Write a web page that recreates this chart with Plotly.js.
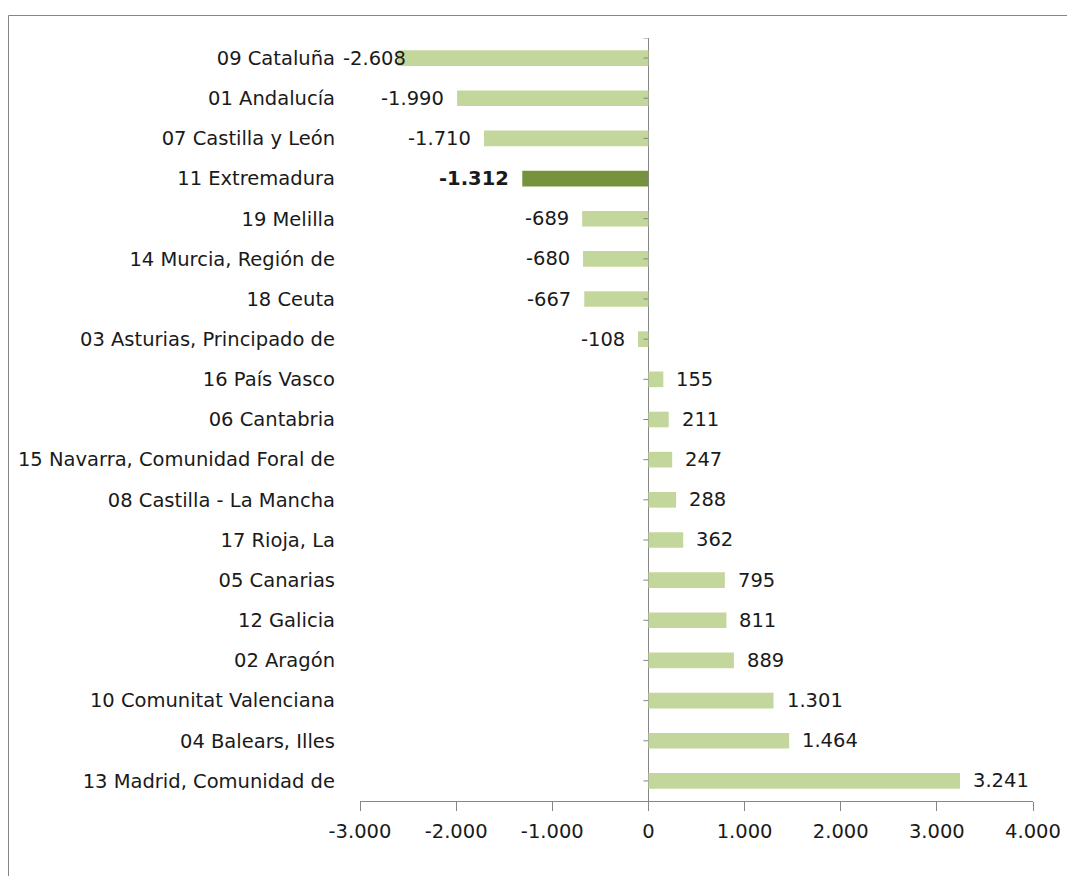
<!DOCTYPE html>
<html>
<head>
<meta charset="utf-8">
<script src="https://cdn.plot.ly/plotly-3.0.1.min.js"></script>
<style>
html,body{margin:0;padding:0;background:#fff;}
#chart{width:1067px;height:876px;}
</style>
</head>
<body>
<div id="chart"></div>
<script>
var categories = [
  "09 Cataluña",
  "01 Andalucía",
  "07 Castilla y León",
  "11 Extremadura",
  "19 Melilla",
  "14 Murcia, Región de",
  "18 Ceuta",
  "03 Asturias, Principado de",
  "16 País Vasco",
  "06 Cantabria",
  "15 Navarra, Comunidad Foral de",
  "08 Castilla - La Mancha",
  "17 Rioja, La",
  "05 Canarias",
  "12 Galicia",
  "02 Aragón",
  "10 Comunitat Valenciana",
  "04 Balears, Illes",
  "13 Madrid, Comunidad de"
];
var values = [-2608, -1990, -1710, -1312, -689, -680, -667, -108, 155, 211, 247, 288, 362, 795, 811, 889, 1301, 1464, 3241];
var highlight = "11 Extremadura";
var xTickVals = [-3000, -2000, -1000, 0, 1000, 2000, 3000, 4000];

var FONT = "'DejaVu Sans', 'Open Sans', sans-serif";
var FS = 19.5;
var LIGHT = "#C3D69B", DARK = "#76923C", AXIS = "#868686", TXT = "#1a1a1a";
var XMIN = -3000, XMAX = 4000;

function fmt(v) {
  var s = Math.abs(v).toString().replace(/\B(?=(\d{3})+(?!\d))/g, ".");
  return (v < 0 ? "-" : "") + s;
}

var colors = categories.map(function (c) { return c === highlight ? DARK : LIGHT; });

var trace = {
  type: "bar",
  orientation: "h",
  x: values,
  y: categories,
  width: 0.39,
  marker: { color: colors, line: { width: 0 } },
  hoverinfo: "skip"
};

var annotations = values.map(function (v, i) {
  var bold = categories[i] === highlight;
  var txt = bold ? "<b>" + fmt(v) + "</b>" : fmt(v);
  var a = {
    x: v, y: categories[i], xref: "x", yref: "y",
    text: txt, showarrow: false,
    font: { family: FONT, size: FS, color: TXT },
    xanchor: v < 0 ? "right" : "left",
    xshift: v < 0 ? -11 : 11,
    yshift: 0
  };
  if (v < XMIN + 700) { // label would run past the axis start: tuck it against the bar
    a.xanchor = "left"; a.x = XMIN; a.xshift = -19;
  }
  return a;
});

var shapes = [];
categories.forEach(function (c, i) {
  shapes.push({ type: "line", xref: "x", yref: "y", xsizemode: "pixel", xanchor: 0,
    x0: -5, x1: 0, y0: i, y1: i, line: { color: AXIS, width: 1 } });
});
shapes.push({ type: "line", xref: "x", yref: "y", xsizemode: "pixel", xanchor: 0,
  x0: -5, x1: 0, y0: -0.5, y1: -0.5, line: { color: AXIS, width: 1 } });
var plotL = 360, plotR = 1033, plotT = 38, plotB = 801;
var pw = plotR - plotL, ph = plotB - plotT;
shapes.push({ type: "rect", xref: "paper", yref: "paper",
  x0: (8.5 - plotL) / pw, x1: (1090 - plotL) / pw,
  y0: (plotB - 900) / ph, y1: (plotB - 15.5) / ph,
  line: { color: AXIS, width: 1 }, fillcolor: "rgba(0,0,0,0)", layer: "below" });

var layout = {
  width: 1067, height: 876,
  margin: { l: plotL, r: 1067 - plotR, t: plotT, b: 876 - plotB, pad: 0 },
  paper_bgcolor: "#fff", plot_bgcolor: "rgba(0,0,0,0)",
  showlegend: false,
  separators: ",.",
  font: { family: FONT, size: FS, color: TXT },
  xaxis: {
    range: [XMIN, XMAX], tickvals: xTickVals, ticktext: xTickVals.map(fmt),
    showgrid: false, zeroline: true, zerolinecolor: AXIS, zerolinewidth: 1,
    showline: true, linecolor: AXIS, linewidth: 1,
    ticks: "outside", ticklen: 9, tickcolor: AXIS, tickwidth: 1,
    ticklabelstandoff: 4,
    tickfont: { family: FONT, size: FS, color: TXT },
    fixedrange: true
  },
  yaxis: {
    type: "category", categoryorder: "array", categoryarray: categories,
    range: [categories.length - 0.5, -0.5],
    showgrid: false, zeroline: false, showline: false, ticks: "",
    ticklabelstandoff: 24,
    tickfont: { family: FONT, size: FS, color: TXT },
    fixedrange: true
  },
  annotations: annotations,
  shapes: shapes
};

Plotly.newPlot("chart", [trace], layout, { displayModeBar: false, staticPlot: true });
</script>
</body>
</html>
